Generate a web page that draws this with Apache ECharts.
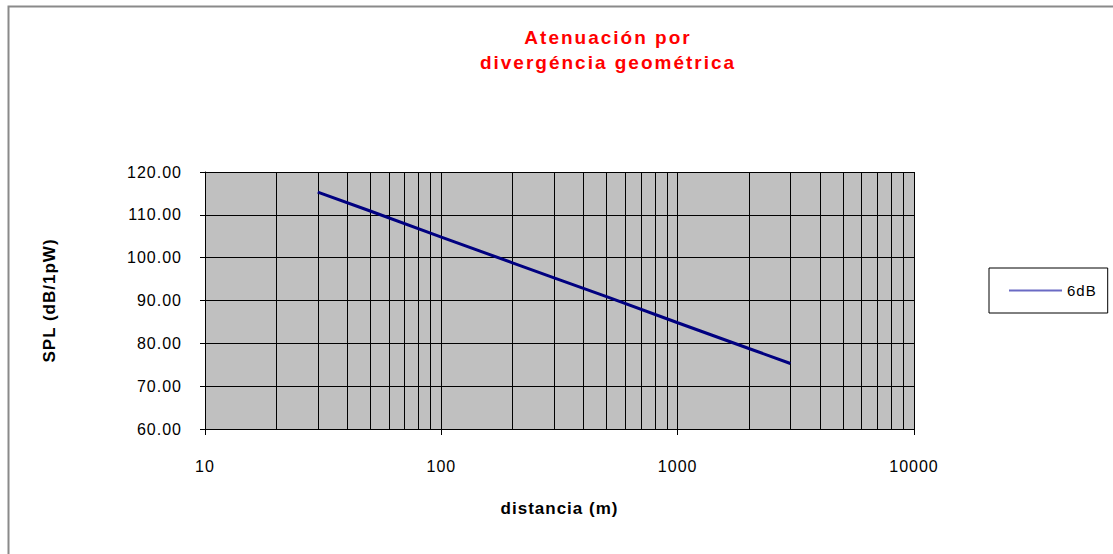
<!DOCTYPE html>
<html>
<head>
<meta charset="utf-8">
<script src="https://cdn.jsdelivr.net/npm/echarts@6/dist/echarts.min.js"></script>
<style>
html,body{margin:0;padding:0;background:#fff}
#c{width:1113px;height:554px}
#c text{letter-spacing:1px}
#c text[style*="19px"]{letter-spacing:2px}
</style>
</head>
<body>
<div id="c"></div>
<script>
// distances (m) and SPL values
const distances = [30, 50, 100, 200, 300, 500, 1000, 2000, 3000];
const spl6dB = [115.3, 110.9, 104.8, 98.8, 95.3, 90.9, 84.8, 78.8, 75.3];
const seriesName = '6dB';
// minor vertical grid positions of the log axis
const minorGrid = [20,30,40,50,60,70,80,90,200,300,400,500,600,700,800,900,2000,3000,4000,5000,6000,7000,8000,9000];
const yTicks = {min: 60, max: 120, interval: 10};

const FONT = 'Arial, "Liberation Sans", sans-serif';
const chart = echarts.init(document.getElementById('c'), null, {renderer: 'svg'});
chart.setOption({
  animation: false,
  backgroundColor: '#ffffff',
  textStyle: {fontFamily: FONT},
  graphic: [{
    type: 'rect', z: -10, silent: true,
    shape: {x: 8.5, y: 6.5, width: 1300, height: 700},
    style: {fill: 'none', stroke: '#8a8a8a', lineWidth: 2}
  }],
  title: {
    text: 'Atenuación por\ndivergéncia geométrica',
    left: 608, top: 25, padding: 0,
    textAlign: 'center',
    textStyle: {color: '#ff0000', fontSize: 19, fontWeight: 'bold', lineHeight: 25, fontFamily: FONT}
  },
  legend: {
    left: 989, top: 268,
    padding: [15, 14, 15, 20],
    borderColor: '#000', borderWidth: 1,
    itemWidth: 53, itemHeight: 2, itemGap: 0,
    icon: 'rect',
    textStyle: {fontSize: 15, color: '#000', fontFamily: FONT},
    data: [{name: seriesName, itemStyle: {color: '#6a6ac4'}}]
  },
  grid: {left: 205, right: 199, top: 172, bottom: 125, show: true, backgroundColor: '#c0c0c0', borderWidth: 0},
  xAxis: {
    type: 'log', logBase: 10, min: 10, max: 10000,
    name: 'distancia (m)', nameLocation: 'middle', nameGap: 71,
    nameTextStyle: {fontSize: 17, fontWeight: 'bold', color: '#000', fontFamily: FONT},
    axisLine: {show: true, lineStyle: {color: '#000', width: 1}},
    axisTick: {show: true, length: 6, inside: false, lineStyle: {color: '#000'}},
    axisLabel: {fontSize: 16, color: '#000', margin: 29, fontFamily: FONT, formatter: v => String(Math.round(v))},
    splitLine: {show: true, lineStyle: {color: '#000', width: 1}},
    minorTick: {show: false}, minorSplitLine: {show: false}
  },
  yAxis: {
    type: 'value', min: yTicks.min, max: yTicks.max, interval: yTicks.interval,
    name: 'SPL (dB/1pW)', nameLocation: 'middle', nameGap: 147,
    nameTextStyle: {fontSize: 17, fontWeight: 'bold', color: '#000', fontFamily: FONT},
    axisLine: {show: true, lineStyle: {color: '#000', width: 1}},
    axisTick: {show: true, length: 5, inside: false, lineStyle: {color: '#000'}},
    axisLabel: {fontSize: 16, color: '#000', margin: 23, fontFamily: FONT, formatter: v => v.toFixed(2)},
    splitLine: {show: true, lineStyle: {color: '#000', width: 1}}
  },
  series: [{
    name: seriesName, type: 'line',
    data: distances.map((d, i) => [d, spl6dB[i]]),
    showSymbol: false, symbol: 'none',
    lineStyle: {color: '#000080', width: 3},
    itemStyle: {color: '#000080'},
    z: 5,
    markLine: {
      silent: true, symbol: 'none', z: 1,
      label: {show: false},
      lineStyle: {color: '#000', width: 1, type: 'solid'},
      emphasis: {disabled: true},
      data: minorGrid.map(v => ({xAxis: v}))
    }
  }]
});
</script>
</body>
</html>
